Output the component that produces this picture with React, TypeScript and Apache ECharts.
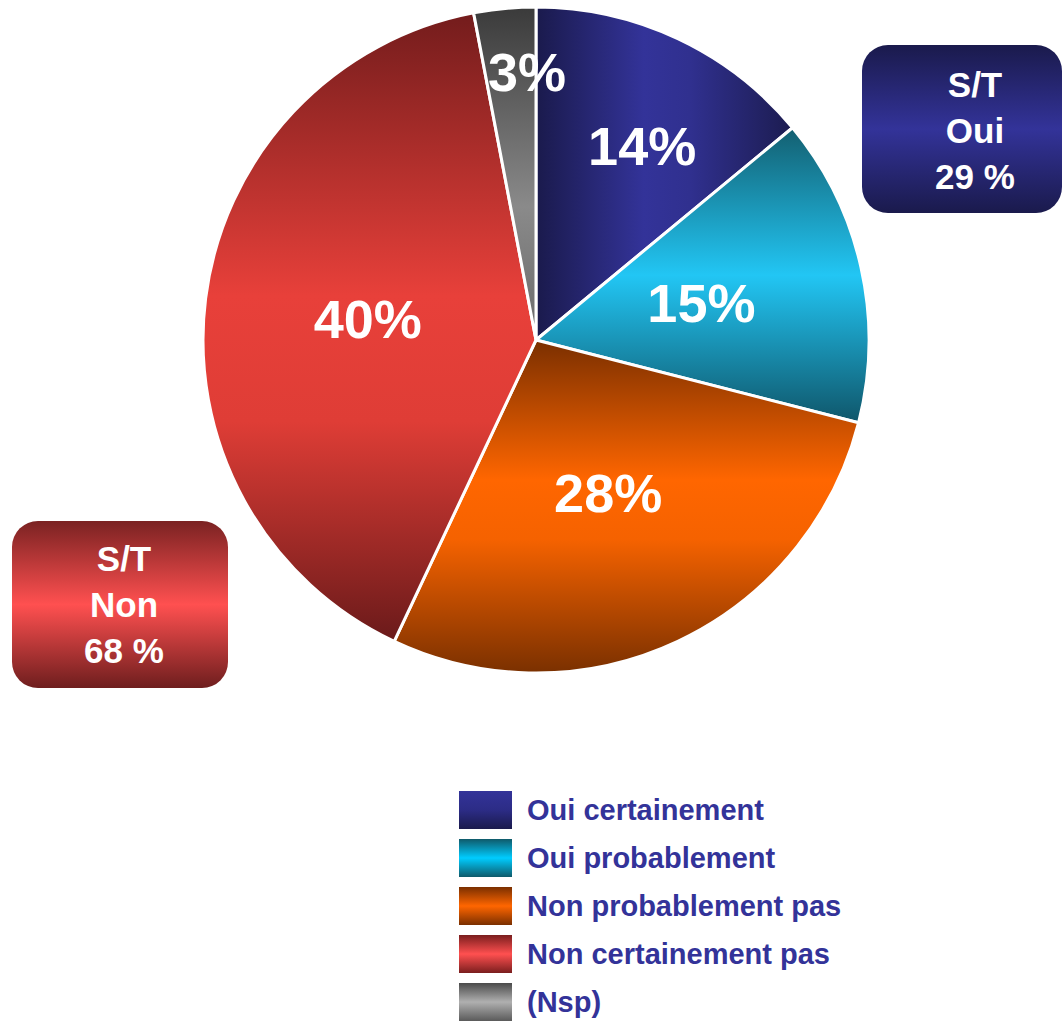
import React, { useEffect, useRef } from "react";
import * as echarts from "echarts";

const categories = [
  "Oui certainement",
  "Oui probablement",
  "Non probablement pas",
  "Non certainement pas",
  "(Nsp)",
];
const values = [14, 15, 28, 40, 3];
const boxTitles = ["S/T\nOui", "S/T\nNon"];

const FONT = "Liberation Sans, Arial, Helvetica, sans-serif";

const lg = (x: number, y: number, x2: number, y2: number, stops: [number, string][]) =>
  new echarts.graphic.LinearGradient(
    x,
    y,
    x2,
    y2,
    stops.map(([offset, color]) => ({ offset, color }))
  );

const sliceFills = [
  lg(0, 0, 1, 0, [[0, "#1a1a4c"], [0.42, "#333399"], [0.6, "#30308f"], [1, "#1c1c50"]]),
  lg(0, 0, 0, 1, [[0, "#135f70"], [0.5, "#22c6f4"], [1, "#0f566a"]]),
  lg(0, 0, 0, 1, [[0, "#7a2f00"], [0.42, "#ff6600"], [0.6, "#f56200"], [1, "#7a3000"]]),
  lg(0, 0, 0, 1, [[0, "#731c1c"], [0.45, "#e8403a"], [0.65, "#df3d36"], [1, "#6a1a1a"]]),
  lg(0, 0, 0, 1, [[0, "#3a3a3a"], [0.6, "#8a8a8a"], [1, "#6a6a6a"]]),
];

const legendFills = [
  lg(0, 0, 0, 1, [[0, "#333399"], [0.5, "#2c2c86"], [1, "#1a1a4c"]]),
  lg(0, 0, 0, 1, [[0, "#0f5a6a"], [0.5, "#00ccff"], [1, "#0f5a6a"]]),
  lg(0, 0, 0, 1, [[0, "#7a2f00"], [0.5, "#ff6600"], [1, "#7a2f00"]]),
  lg(0, 0, 0, 1, [[0, "#7a1e1e"], [0.5, "#ff5050"], [1, "#7a1e1e"]]),
  lg(0, 0, 0, 1, [[0, "#4a4a4a"], [0.5, "#b0b0b0"], [1, "#5a5a5a"]]),
];

const labelOffsets: ([number, number] | undefined)[] = [[34, -41], undefined, undefined, undefined, [7, -99]];

export default function App() {
  const ref = useRef<HTMLDivElement>(null);
  useEffect(() => {
    if (!ref.current) return;
    const chart = echarts.init(ref.current, undefined, { renderer: "svg" });
    const ouiTotal = values[0] + values[1];
    const nonTotal = values[2] + values[3];
    chart.setOption({
      animation: false,
      backgroundColor: "#ffffff",
      legend: {
        orient: "vertical",
        left: 459,
        top: 791,
        padding: 0,
        itemWidth: 53,
        itemHeight: 38,
        itemGap: 10,
        icon: "rect",
        selectedMode: false,
        textStyle: {
          color: "#333399",
          fontSize: 29,
          fontWeight: "bold",
          fontFamily: FONT,
          padding: [4, 0, 0, 10],
        },
        data: categories.map((name, i) => ({
          name,
          itemStyle: { color: legendFills[i], borderWidth: 0 },
        })),
      },
      series: [
        {
          type: "pie",
          center: [536, 340],
          radius: [0, 333],
          startAngle: 90,
          clockwise: true,
          avoidLabelOverlap: false,
          label: {
            show: true,
            position: "inside",
            formatter: "{c}%",
            color: "#ffffff",
            fontSize: 54,
            fontWeight: "bold",
            fontFamily: FONT,
          },
          labelLine: { show: false },
          emphasis: { disabled: true },
          itemStyle: { borderColor: "#ffffff", borderWidth: 3 },
          data: categories.map((name, i) => ({
            name,
            value: values[i],
            itemStyle: { color: sliceFills[i] },
            label: labelOffsets[i] ? { offset: labelOffsets[i] } : undefined,
          })),
        },
      ],
      graphic: [
        {
          type: "rect",
          left: 862,
          top: 45,
          shape: { width: 200, height: 168, r: 26 },
          style: {
            fill: lg(0, 0, 0, 1, [[0, "#1a1a4c"], [0.5, "#333399"], [1, "#1a1a4c"]]),
          },
          z: 10,
        },
        {
          type: "text",
          x: 975,
          y: 130,
          z: 11,
          style: {
            text: `${boxTitles[0]}\n${ouiTotal} %`,
            fill: "#ffffff",
            font: `bold 35px ${FONT}`,
            lineHeight: 46,
            align: "center",
            verticalAlign: "middle",
          },
        },
        {
          type: "rect",
          left: 12,
          top: 521,
          shape: { width: 216, height: 167, r: 26 },
          style: {
            fill: lg(0, 0, 0, 1, [[0, "#7a2222"], [0.5, "#ff5050"], [1, "#6e1e1e"]]),
          },
          z: 10,
        },
        {
          type: "text",
          x: 124,
          y: 604,
          z: 11,
          style: {
            text: `${boxTitles[1]}\n${nonTotal} %`,
            fill: "#ffffff",
            font: `bold 35px ${FONT}`,
            lineHeight: 46,
            align: "center",
            verticalAlign: "middle",
          },
        },
      ],
    });
    return () => chart.dispose();
  }, []);
  return (
    <div
      ref={ref}
      style={{ position: "absolute", left: 0, top: 0, width: 1063, height: 1023 }}
    />
  );
}
